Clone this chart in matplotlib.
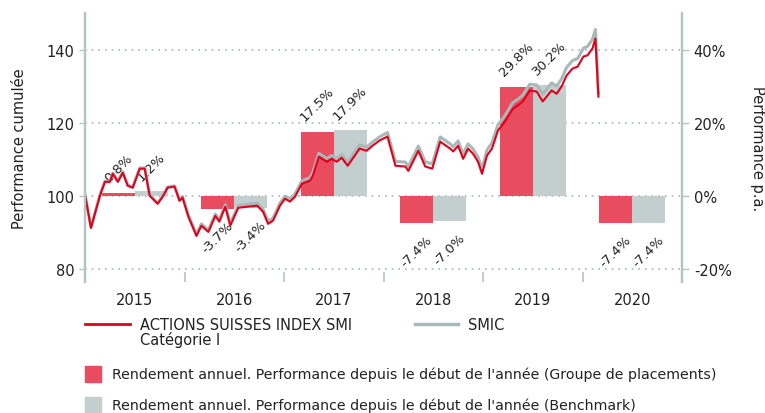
import matplotlib
matplotlib.use("Agg")
import matplotlib.pyplot as plt
from matplotlib.lines import Line2D
from matplotlib.patches import Rectangle

# Performance cumulée (temps en années depuis le 1.1.2015)
temps = [0.00, 0.06, 0.15, 0.20, 0.25, 0.28, 0.33, 0.38, 0.43, 0.48, 0.55, 0.60, 0.65, 0.73, 0.78,
         0.83, 0.90, 0.95, 0.98, 1.04, 1.12, 1.17, 1.24, 1.31, 1.35, 1.41, 1.46, 1.54, 1.63, 1.73,
         1.79, 1.84, 1.89, 1.96, 2.01, 2.06, 2.11, 2.18, 2.26, 2.29, 2.35, 2.43, 2.48, 2.53, 2.58,
         2.64, 2.76, 2.83, 2.89, 2.96, 3.04, 3.12, 3.22, 3.25, 3.35, 3.42, 3.49, 3.57, 3.67, 3.70,
         3.75, 3.80, 3.85, 3.90, 3.95, 3.99, 4.04, 4.09, 4.15, 4.22, 4.30, 4.35, 4.40, 4.47, 4.54,
         4.60, 4.69, 4.74, 4.79, 4.84, 4.90, 4.95, 5.01, 5.05, 5.10, 5.13, 5.16]
fonds = [100.3, 91.2, 100.0, 103.8, 103.8, 106.0, 103.8, 106.3, 102.7, 102.2, 107.4, 107.4, 100.0, 97.8, 99.7,
         102.2, 102.5, 98.6, 99.5, 94.2, 89.0, 91.8, 90.1, 94.5, 92.9, 97.0, 91.8, 96.7, 97.0, 97.3,
         95.6, 92.3, 93.2, 97.3, 99.2, 98.4, 99.7, 103.3, 104.1, 105.5, 110.7, 109.3, 110.1, 109.3, 110.4,
         108.2, 112.9, 112.3, 113.7, 115.1, 116.2, 108.2, 108.0, 106.8, 112.3, 108.0, 107.4, 114.8, 112.9, 112.1,
         113.7, 110.1, 112.9, 111.5, 109.3, 106.0, 111.0, 112.9, 117.8, 120.3, 123.8, 124.7, 125.8, 128.8, 128.5,
         125.8, 128.8, 127.9, 129.9, 132.9, 134.8, 135.3, 138.1, 138.4, 140.3, 143.0, 127.1]
benchmark = [100.3, 91.4, 100.2, 104.0, 104.0, 106.2, 104.0, 106.5, 102.9, 102.4, 107.6, 107.6, 100.3, 98.0, 99.9,
             102.4, 102.7, 98.9, 99.8, 94.6, 89.5, 92.3, 90.6, 95.0, 93.4, 97.5, 92.4, 97.3, 97.7, 98.0,
             96.3, 93.0, 93.9, 98.0, 99.9, 99.2, 100.5, 104.1, 104.9, 106.4, 111.6, 110.2, 111.0, 110.2, 111.3,
             109.1, 113.9, 113.3, 114.7, 116.1, 117.3, 109.4, 109.2, 108.0, 113.6, 109.3, 108.7, 116.1, 114.2, 113.4,
             115.0, 111.4, 114.2, 112.8, 110.6, 107.3, 112.5, 114.5, 119.4, 121.9, 125.5, 126.4, 127.5, 130.5, 130.3,
             127.8, 130.9, 130.0, 132.0, 135.1, 137.0, 137.5, 140.4, 140.8, 142.8, 145.5, 128.0]

# Rendement annuel
annees = ['2015', '2016', '2017', '2018', '2019', '2020']
rend_fonds = [0.8, -3.7, 17.5, -7.4, 29.8, -7.4]
rend_bench = [1.2, -3.4, 17.9, -7.0, 30.2, -7.4]

ROUGE = '#e2001a'
ROUGE_BARRE = '#e84c5e'
GRIS_BARRE = '#c3cfcf'
GRIS_LIGNE = '#a9b9b9'
GRIS_AXE = '#b3c5c5'
TEXTE = '#222222'

fig = plt.figure(figsize=(7.65, 4.14), dpi=100)
ax = fig.add_axes([85 / 765, 1 - 283 / 414, 597 / 765, 269 / 414])
ax2 = ax.twinx()

ymin, ymax = 76.4, 150
ax.set_ylim(ymin, ymax)
ax2.set_ylim(ymin - 100, ymax - 100)
ax.set_xlim(0, 6)

# barres sur l'axe de droite
pos = range(len(annees))
x_f = [i + 1 / 3 for i in pos]
x_b = [i + 2 / 3 for i in pos]
ax2.bar(x_f, rend_fonds, width=1 / 3, color=ROUGE_BARRE, zorder=1)
ax2.bar(x_b, rend_bench, width=1 / 3, color=GRIS_BARRE, zorder=1)
for xs, vals in [(x_f, rend_fonds), (x_b, rend_bench)]:
    for x, v in zip(xs, vals):
        txt = f'{v:.1f}%'
        if v >= 0:
            ax2.annotate(txt, (x, v), xytext=(0, 6), textcoords='offset points', rotation=45,
                         ha='center', va='bottom', fontsize=9.5, color=TEXTE)
        else:
            ax2.annotate(txt, (x, v), xytext=(0, -7), textcoords='offset points', rotation=45,
                         ha='center', va='top', fontsize=9.5, color=TEXTE)

# lignes sur l'axe de gauche (au-dessus des barres)
ax.set_zorder(ax2.get_zorder() + 1)
ax.patch.set_visible(False)
ax.plot(temps, benchmark, color=GRIS_LIGNE, linewidth=2.2)
ax.plot(temps, fonds, color=ROUGE, linewidth=1.5)

# grille
for v in [-20, 0, 20, 40]:
    ax2.axhline(v, color='#a8b4b4', linestyle=(0, (1, 3)), linewidth=1.2, zorder=0)

ax.set_yticks([80, 100, 120, 140])
ax2.set_yticks([-20, 0, 20, 40])
ax2.set_yticklabels(['-20%', '0%', '20%', '40%'])

ax.set_xticks(range(7))
ax.set_xticklabels([])
ax.set_xticks([i + 0.5 for i in pos], minor=True)
ax.set_xticklabels(annees, minor=True)
ax.tick_params(axis='x', which='major', direction='in', length=7, width=1.2, color=GRIS_AXE)
ax.tick_params(axis='x', which='minor', length=0, pad=7, labelsize=10.5, labelcolor=TEXTE)
ax.tick_params(axis='y', length=4, width=1, color=GRIS_AXE, labelsize=10.5, labelcolor=TEXTE)
ax2.tick_params(axis='y', length=5, width=1, color=GRIS_AXE, labelsize=10.5, labelcolor=TEXTE)

for a in (ax, ax2):
    a.spines['top'].set_visible(False)
    a.spines['bottom'].set_visible(False)
    a.spines['left'].set_color(GRIS_AXE)
    a.spines['right'].set_color(GRIS_AXE)
    a.spines['left'].set_linewidth(1.6)
    a.spines['right'].set_linewidth(1.6)

ax.set_ylabel('Performance cumulée', fontsize=10.5, color=TEXTE, labelpad=14)
ax2.set_ylabel('Performance p.a.', fontsize=10.5, color=TEXTE, rotation=270, labelpad=24)

# légende
fig.add_artist(Line2D([85 / 765, 130 / 765], [1 - 325 / 414] * 2, color=ROUGE, linewidth=2))
fig.text(140 / 765, 1 - 318 / 414, 'ACTIONS SUISSES INDEX SMI\nCatégorie I', fontsize=10.5,
         color=TEXTE, va='top', ha='left', linespacing=0.95)
fig.add_artist(Line2D([415 / 765, 458 / 765], [1 - 325 / 414] * 2, color=GRIS_LIGNE, linewidth=2.5))
fig.text(468 / 765, 1 - 318 / 414, 'SMIC', fontsize=10.5, color=TEXTE, va='top', ha='left')
fig.add_artist(Rectangle((85 / 765, 1 - 383 / 414), 16 / 765, 16 / 414, color=ROUGE_BARRE))
fig.text(112 / 765, 1 - 375 / 414, "Rendement annuel. Performance depuis le début de l'année (Groupe de placements)",
         fontsize=10.2, color=TEXTE, va='center', ha='left')
fig.add_artist(Rectangle((85 / 765, 1 - 414 / 414), 16 / 765, 16 / 414, color=GRIS_BARRE))
fig.text(112 / 765, 1 - 406 / 414, "Rendement annuel. Performance depuis le début de l'année (Benchmark)",
         fontsize=10.2, color=TEXTE, va='center', ha='left')

fig.savefig('out.png', dpi=100)
